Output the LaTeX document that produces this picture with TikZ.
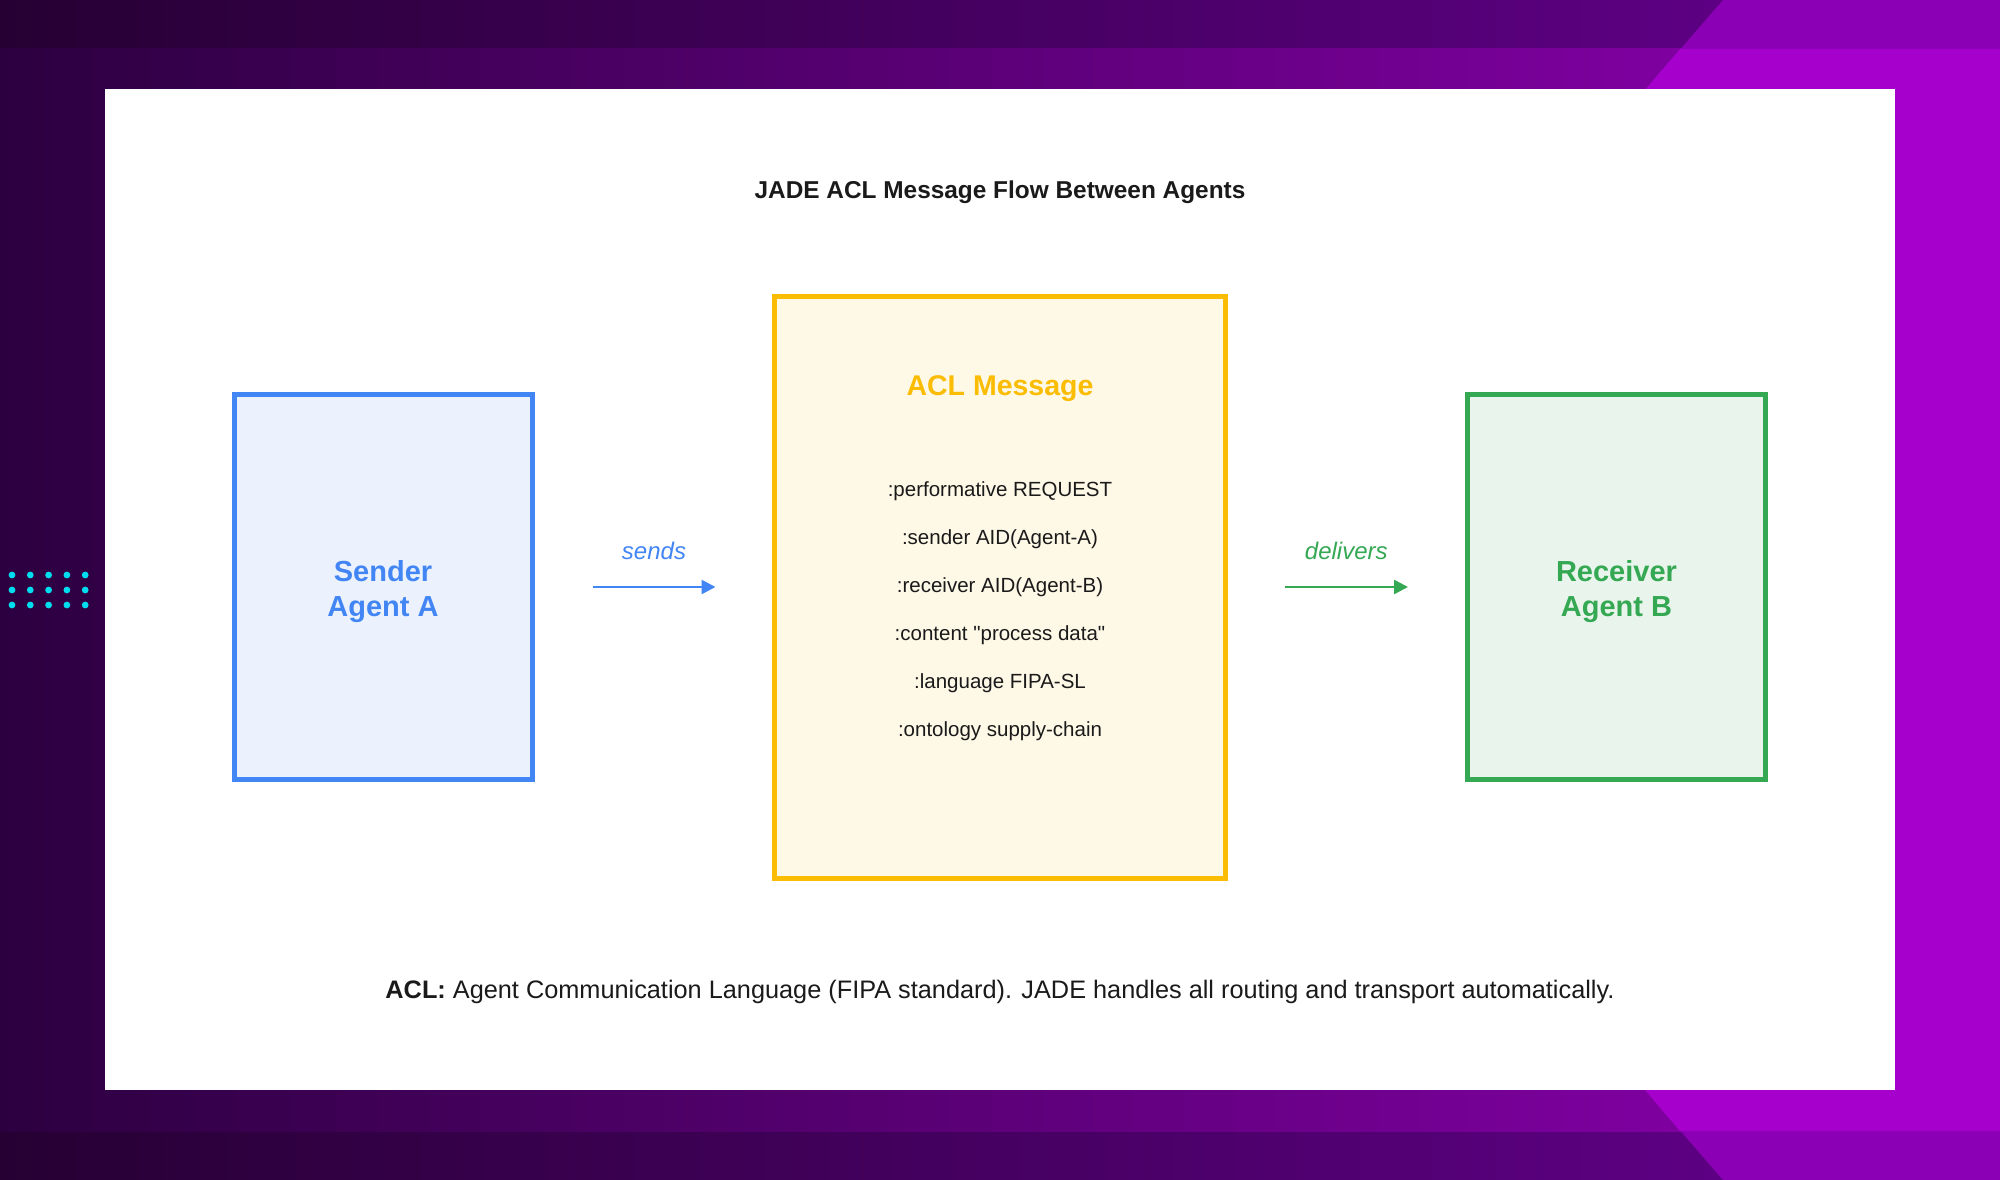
\documentclass[tikz,border=0pt]{standalone}
\usepackage{fontspec}
\setmainfont{Liberation Sans}[Ligatures=TeXOff]
\usetikzlibrary{arrows.meta}
\definecolor{bgdark}{HTML}{260033}
\definecolor{bgmid}{HTML}{660090}
\definecolor{banddark}{HTML}{2C0040}
\definecolor{bandmid}{HTML}{8E00B2}
\definecolor{bgright}{HTML}{8B00B5}
\definecolor{bandright}{HTML}{A600CC}
\definecolor{dotcyan}{HTML}{00DDEE}
\definecolor{agentblue}{HTML}{4285F4}
\definecolor{senderfill}{HTML}{EBF2FE}
\definecolor{msgyellow}{HTML}{FBBC04}
\definecolor{msgfill}{HTML}{FEF8E6}
\definecolor{agentgreen}{HTML}{34A853}
\definecolor{recvfill}{HTML}{E9F5EC}
\definecolor{inkdark}{HTML}{1A1A1A}
\begin{document}
\begin{tikzpicture}[x=1pt, y=-1pt,
  agent/.style={draw, line width=5pt, minimum width=298pt, minimum height=385pt},
  agentname/.style={align=center, font=\bfseries\fontsize{29}{35}\selectfont},
  field/.style={text=inkdark, font=\fontsize{20.5}{24}\selectfont},
  flow/.style={line width=2.5pt, -{Triangle[length=14pt,width=14pt]}},
  verb/.style={font=\itshape\fontsize{24}{28}\selectfont}]
\useasboundingbox (0,0) rectangle (2000,1180);

% backdrop
\shade[left color=bgdark, right color=bgmid] (0,0) rectangle (2000,1180);
\shade[left color=banddark, right color=bandmid] (0,49) rectangle (2000,1131);
\fill[bgright] (1723,0) -- (1645,90) -- (1645,1090) -- (1723,1180) -- (2000,1180) -- (2000,0) -- cycle;
\fill[bandright] (1680,49) -- (1645,90) -- (1645,1090) -- (1680,1131) -- (2000,1131) -- (2000,49) -- cycle;
\fill[white] (105,89) rectangle (1895,1090);
\foreach \i in {0,...,4}
  \foreach \j in {0,...,2}
    \fill[dotcyan] ({12+18.3*\i},{575+15*\j}) circle (3.4);

\node[text=inkdark, font=\bfseries\fontsize{24.4}{28}\selectfont] (title) at (1000,192) {JADE ACL Message Flow Between Agents};

\node[agent, draw=agentblue, fill=senderfill] (sender) at (383,587) {};
\node[agentname, text=agentblue] (sendername) at ([yshift=-5pt]sender.center) {Sender\\Agent A};
\node[draw=msgyellow, fill=msgfill, line width=5pt, minimum width=451pt, minimum height=582pt] (msg) at (999.5,587) {};
\node[agent, draw=agentgreen, fill=recvfill] (receiver) at (1616.5,587) {};
\node[agentname, text=agentgreen] (receivername) at ([yshift=-5pt]receiver.center) {Receiver\\Agent B};

\node[text=msgyellow, font=\bfseries\fontsize{28.5}{34}\selectfont] (msgtitle) at (1000,389) {ACL Message};
\foreach \f [count=\k] in {{:performative REQUEST},{:sender AID(Agent-A)},{:receiver AID(Agent-B)},{:content "process data"},{:language FIPA-SL},{:ontology supply-chain}}
  \node[field] (field\k) at (1000,{491+48*(\k-1)}) {\f};

\draw[flow, agentblue] ([xshift=58pt]sender.east) -- ([xshift=-56pt]msg.west) node[verb, midway, yshift=36pt] (sends) {sends};
\draw[flow, agentgreen] ([xshift=57pt]msg.east) -- ([xshift=-57pt]receiver.west) node[verb, midway, yshift=36pt] (delivers) {delivers};

\node[text=inkdark, font=\fontsize{25.3}{30}\selectfont] (note) at (1000,992) {\textbf{ACL:} Agent Communication Language (FIPA standard). JADE handles all routing and transport automatically.};
\end{tikzpicture}
\end{document}
